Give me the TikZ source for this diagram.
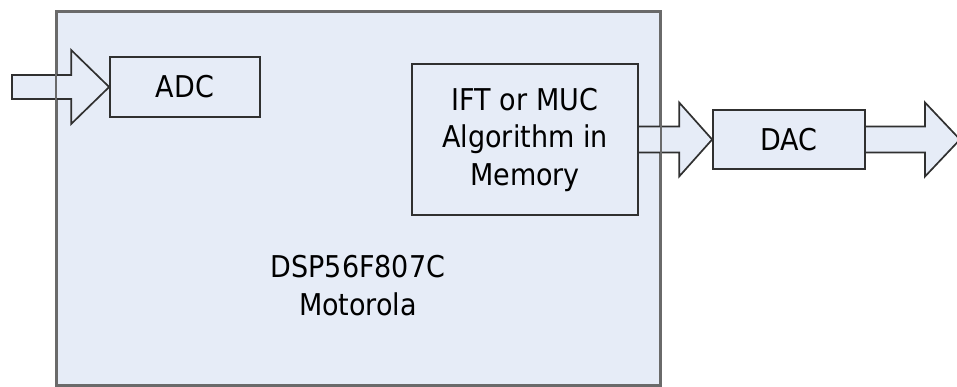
\documentclass[tikz,border=0pt]{standalone}
\usepackage{fontspec}
\setmainfont{DejaVu Sans Condensed}
\usetikzlibrary{calc}
\definecolor{boxfill}{HTML}{E6ECF7}
\definecolor{bigedge}{HTML}{6A6A6A}
\definecolor{smalledge}{HTML}{303030}
\tikzset{
  chip/.style={draw=bigedge, line width=2pt, fill=boxfill, inner sep=0pt},
  blockbox/.style={draw=smalledge, line width=1.7pt, fill=boxfill, inner sep=0pt, align=center,
    font=\fontsize{30}{37.5}\selectfont},
  bigarrow/.style={draw=smalledge, line width=1.7pt, fill=boxfill, line join=miter},
  lbl/.style={inner sep=0pt, align=center, font=\fontsize{30}{38}\selectfont}
}
\begin{document}
\begin{tikzpicture}[x=1pt, y=-1pt]
\useasboundingbox (0,0) rectangle (957,387);
\clip (0,0) rectangle (957,387);
% main chip
\node[chip, minimum width=603pt, minimum height=373pt] (dsp) at (358.5,198.5) {};
\node[lbl] (dsplabel) at (358,286) {DSP56F807C\\Motorola};
% inner blocks
\node[blockbox, minimum width=150pt, minimum height=60pt] (adc) at (185,87) {ADC};
\node[blockbox, minimum width=226pt, minimum height=151pt] (ift) at (525,139.5) {IFT or MUC\\Algorithm in\\Memory};
\node[blockbox, minimum width=152pt, minimum height=59pt] (dac) at (789,139.5) {DAC};
\coordinate (in) at (12,87);
\coordinate (out) at (960,139.5);
% block arrows
\draw[bigarrow] (in) ++(0,-12) -- ($(adc.west)+(-38,-12)$) -- ($(adc.west)+(-38,-37)$) -- (adc.west)
  -- ($(adc.west)+(-38,37)$) -- ($(adc.west)+(-38,12)$) -- ($(in)+(0,12)$) -- cycle;
\draw[bigarrow] ($(ift.east)+(0,-13)$) -- ($(dac.west)+(-33,-13)$) -- ($(dac.west)+(-33,-37)$) -- (dac.west)
  -- ($(dac.west)+(-33,37)$) -- ($(dac.west)+(-33,13)$) -- ($(ift.east)+(0,13)$);
\draw[bigarrow] ($(dac.east)+(0,-13)$) -- ($(out)+(-35,-13)$) -- ($(out)+(-35,-37)$) -- (out)
  -- ($(out)+(-35,37)$) -- ($(out)+(-35,13)$) -- ($(dac.east)+(0,13)$);
% chip border over arrows
\draw[draw=bigedge, line width=2pt] (dsp.north west) rectangle (dsp.south east);
% redraw blocks on top
\node[blockbox, minimum width=150pt, minimum height=60pt] at (adc) {ADC};
\node[blockbox, minimum width=226pt, minimum height=151pt] at (ift) {IFT or MUC\\Algorithm in\\Memory};
\node[blockbox, minimum width=152pt, minimum height=59pt] at (dac) {DAC};
\end{tikzpicture}
\end{document}
